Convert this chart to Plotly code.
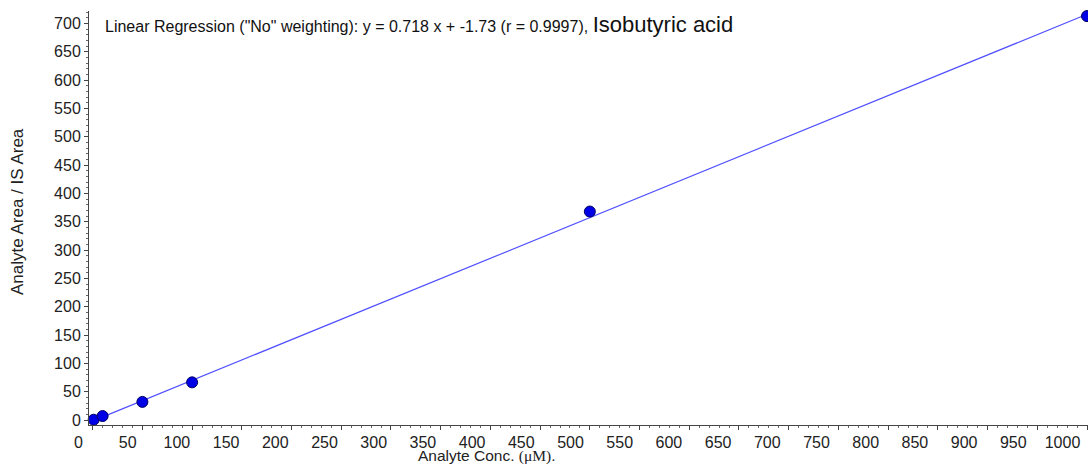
import numpy as np
import plotly.graph_objects as go

# Data
conc = [1, 10, 50, 100, 500, 1000]          # Analyte Conc. (uM)
ratio = [0.5, 7, 32, 66.5, 368, 713]        # Analyte Area / IS Area
slope = 0.718
intercept = -1.73
r_value = 0.9997
analyte = "Isobutyric acid"

x_ticks = list(range(0, 1001, 50))
y_ticks = list(range(0, 701, 50))

line_x = np.array([min(conc), max(conc)])
line_y = slope * line_x + intercept

fig = go.Figure()
fig.add_trace(go.Scatter(x=line_x, y=line_y, mode="lines",
                         line=dict(color="#5050ff", width=1.2),
                         hoverinfo="skip", showlegend=False))
fig.add_trace(go.Scatter(x=conc, y=ratio, mode="markers",
                         marker=dict(color="#0000e6", size=11,
                                     line=dict(color="#000060", width=1)),
                         cliponaxis=False, showlegend=False))
# carrier trace so the label axis (x2) is drawn; draws nothing itself
fig.add_trace(go.Scatter(x=conc, y=ratio, xaxis="x2", mode="none",
                         hoverinfo="skip", showlegend=False))

fig.update_layout(
    width=1088, height=467,
    margin=dict(l=89, r=0, t=11, b=42),
    plot_bgcolor="white", paper_bgcolor="white",
    font=dict(family="Liberation Sans, Arial, sans-serif", color="#222222"),
    xaxis=dict(range=[-3.7, 1001], tickvals=x_ticks, showticklabels=False,
               showgrid=False, zeroline=False,
               showline=True, linecolor="#444444", linewidth=1,
               ticks="outside", ticklen=4, tickcolor="#444444",
               minor=dict(dtick=10, ticks="outside", ticklen=2, tickcolor="#666666")),
    # label axis: the reference's tick labels sit on a slightly compressed scale
    xaxis2=dict(overlaying="x", anchor="y", side="bottom",
                range=[-9.65, 1005.6], tickvals=x_ticks,
                showgrid=False, zeroline=False, showline=False,
                ticks="outside", ticklen=3, tickcolor="rgba(0,0,0,0)",
                ticklabelshift=-20,
                tickfont=dict(size=16, color="#222222")),
    yaxis=dict(range=[-8.8, 722], tickvals=y_ticks,
               showgrid=False, zeroline=False,
               showline=True, linecolor="#444444", linewidth=1,
               ticks="outside", ticklen=4, tickcolor="#444444",
               tickfont=dict(size=16, color="#222222"),
               minor=dict(dtick=10, ticks="outside", ticklen=2, tickcolor="#666666")),
)

fig.add_annotation(
    xref="paper", yref="paper", x=(103 - 89) / 999, y=1 - (24 - 11) / 414,
    xanchor="left", yanchor="middle", showarrow=False,
    text=(f'<span style="font-size:16px">Linear Regression ("No" weighting): '
          f'y = {slope} x + {intercept} (r = {r_value}), </span>'
          f'<span style="font-size:22px">{analyte}</span>'),
    font=dict(color="#111111"))
fig.add_annotation(
    xref="paper", yref="paper", x=(487 - 89) / 999, y=-(456 - 425) / 414,
    xanchor="center", yanchor="middle", showarrow=False,
    text='Analyte Conc. <span style="font-family:Liberation Serif, Times New Roman, serif">(μM)</span>.',
    font=dict(size=15.5, color="#222222"))
fig.add_annotation(
    xref="paper", yref="paper", x=-(89 - 18) / 999, y=1 - (212 - 11) / 414,
    xanchor="center", yanchor="middle", showarrow=False, textangle=-90,
    text="Analyte Area / IS Area", font=dict(size=17, color="#222222"))

fig.write_html("out.html")
